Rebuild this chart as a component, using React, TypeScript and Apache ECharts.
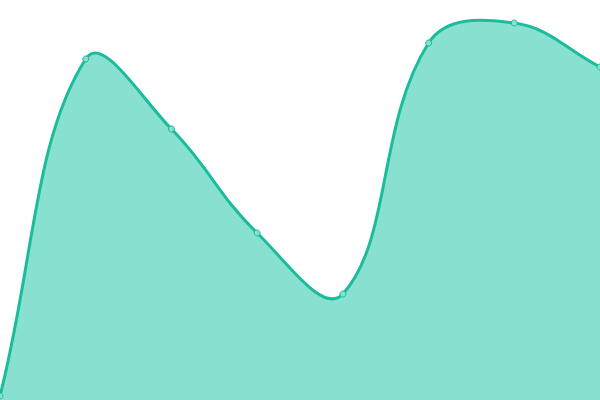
// Grafico de area suave sem eixos visiveis, ocupando a pagina inteira.
// A curva usa um spline cardinal (tensao 0.4), que passa um pouco dos pontos
// nos picos e vales, como no original; o smooth do ECharts nao faz isso.
import { useEffect, useRef } from 'react'
import * as echarts from 'echarts'

const CATEGORIAS = ['A', 'B', 'C', 'D', 'E', 'F', 'G', 'H']
const VALORES = [4, 341, 271, 167, 106, 357, 377, 333]
const Y_MIN = 0
const Y_MAX = 400
const TENSAO = 0.4

const COR_LINHA = '#1abc9c'
const COR_AREA = '#88e0d0'

type Ponto = [number, number]

// pontos de controle de cada ponto, a partir do anterior e do seguinte
function controles(ant: Ponto, atual: Ponto, prox: Ponto) {
  const d01 = Math.hypot(atual[0] - ant[0], atual[1] - ant[1])
  const d12 = Math.hypot(prox[0] - atual[0], prox[1] - atual[1])
  const soma = d01 + d12
  const fa = soma ? (TENSAO * d01) / soma : 0
  const fb = soma ? (TENSAO * d12) / soma : 0
  const vx = prox[0] - ant[0]
  const vy = prox[1] - ant[1]
  return {
    antes: [atual[0] - fa * vx, atual[1] - fa * vy] as Ponto,
    depois: [atual[0] + fb * vx, atual[1] + fb * vy] as Ponto,
  }
}

function caminhoCurva(pts: Ponto[]) {
  const cps = pts.map((p, i) => controles(pts[i - 1] ?? p, p, pts[i + 1] ?? p))
  let d = `M${pts[0][0]},${pts[0][1]}`
  for (let i = 1; i < pts.length; i++) {
    const c1 = cps[i - 1].depois
    const c2 = cps[i].antes
    d += ` C${c1[0]},${c1[1]} ${c2[0]},${c2[1]} ${pts[i][0]},${pts[i][1]}`
  }
  return d
}

export default function App() {
  const containerRef = useRef<HTMLDivElement>(null)

  useEffect(() => {
    if (!containerRef.current) return
    document.body.style.margin = '0'
    const instancia = echarts.init(containerRef.current, undefined, { renderer: 'svg' })
    const dados = VALORES.map((v, i) => [i, v])

    instancia.setOption({
      animation: false,
      grid: { left: 0, right: 0, top: 0, bottom: 0 },
      xAxis: { type: 'category', data: CATEGORIAS, boundaryGap: false, show: false },
      yAxis: { type: 'value', min: Y_MIN, max: Y_MAX, show: false },
      series: [
        {
          type: 'custom',
          data: dados,
          encode: { x: 0, y: 1 },
          z: 1,
          renderItem: (params: any, api: any) => {
            if (params.dataIndex !== 0) return null
            const pts = VALORES.map((v, i) => api.coord([i, v]) as Ponto)
            const base = api.coord([0, Y_MIN])[1]
            const curva = caminhoCurva(pts)
            const ultimo = pts[pts.length - 1]
            const area = `${curva} L${ultimo[0]},${base} L${pts[0][0]},${base} Z`
            return {
              type: 'group',
              children: [
                { type: 'path', shape: { pathData: area }, style: { fill: COR_AREA, stroke: 'none' } },
                {
                  type: 'path',
                  shape: { pathData: curva },
                  style: { fill: 'none', stroke: COR_LINHA, lineWidth: 3, lineJoin: 'round' },
                },
              ],
            }
          },
        },
        {
          type: 'scatter',
          data: dados,
          z: 3,
          symbol: 'circle',
          symbolSize: 6,
          itemStyle: { color: COR_AREA, borderColor: COR_LINHA, borderWidth: 1, opacity: 1 },
        },
      ],
    })
    return () => instancia.dispose()
  }, [])

  return <div ref={containerRef} style={{ width: 600, height: 400 }} />
}
